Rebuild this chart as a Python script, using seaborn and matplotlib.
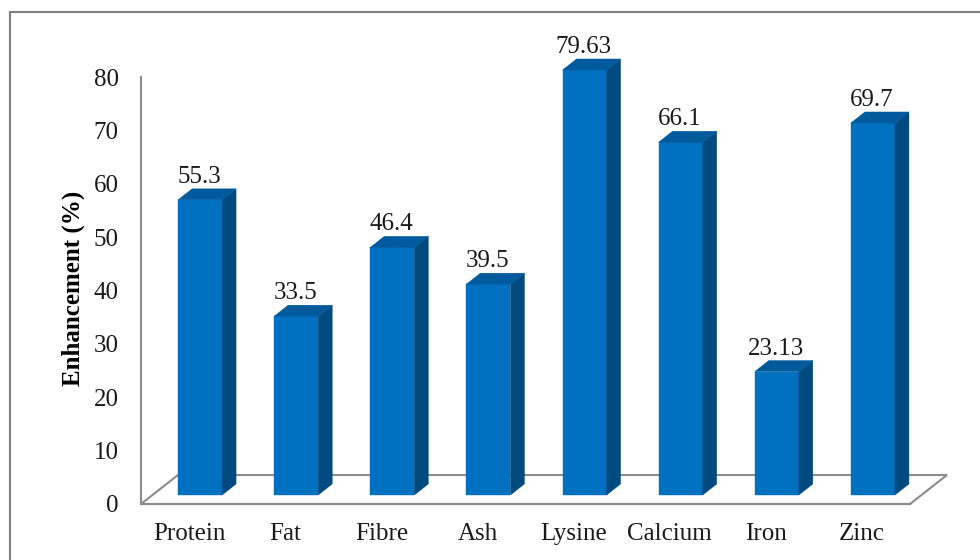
import matplotlib
matplotlib.use("Agg")
import matplotlib.pyplot as plt
from matplotlib.lines import Line2D
from matplotlib.patches import Polygon
import pandas as pd
import seaborn as sns

nutrients = ["Protein", "Fat", "Fibre", "Ash", "Lysine", "Calcium", "Iron", "Zinc"]
enhancement = [55.3, 33.5, 46.4, 39.5, 79.63, 66.1, 23.13, 69.7]
value_labels = ["55.3", "33.5", "46.4", "39.5", "79.63", "66.1", "23.13", "69.7"]
y_ticks = [0, 10, 20, 30, 40, 50, 60, 70, 80]

FRONT = "#0070C0"
SIDE = "#004A80"
TOP = "#005A9C"
GREY = "#8C8C8C"

sns.set_style("white")
plt.rcParams["font.family"] = ["Liberation Serif", "DejaVu Serif"]

df = pd.DataFrame({"nutrient": nutrients, "enhancement": enhancement})

fig = plt.figure(figsize=(9.8, 5.6), dpi=100)
ax = fig.add_axes([141 / 980, 56 / 560, 769 / 980, 427 / 560])
sns.barplot(data=df, x="nutrient", y="enhancement", color=FRONT, saturation=1,
            width=0.458, edgecolor=FRONT, linewidth=0.3, ax=ax)
ax.set_xlim(-0.5, 7.5)
ax.set_ylim(0, 80)
ax.set_yticks(y_ticks)
sns.despine(ax=ax)

# pixels to data units, the fake 3d look is all built from these
px_x = 8 / 769
px_y = 80 / 427
depth_x, depth_y = 14 * px_x, 11 * px_y
shift_x, shift_y = 11 * px_x, 9 * px_y
floor_x, floor_y = 37 * px_x, 29 * px_y

floor = Polygon([(-0.5, 0), (7.5, 0), (7.5 + floor_x, floor_y), (-0.5 + floor_x, floor_y)],
                closed=True, facecolor="white", edgecolor=GREY, linewidth=1.5,
                clip_on=False, zorder=0.5)
ax.add_patch(floor)

for bar, label in zip(ax.patches[:len(nutrients)], value_labels):
    bar.set_x(bar.get_x() + shift_x)
    bar.set_y(shift_y)
    bar.set_clip_on(False)
    bar.set_zorder(3)
    x0 = bar.get_x()
    x1 = x0 + bar.get_width()
    y0 = bar.get_y()
    y1 = y0 + bar.get_height()
    side = Polygon([(x1, y0), (x1 + depth_x, y0 + depth_y), (x1 + depth_x, y1 + depth_y), (x1, y1)],
                   facecolor=SIDE, edgecolor=SIDE, linewidth=0.3, clip_on=False, zorder=3)
    top = Polygon([(x0, y1), (x1, y1), (x1 + depth_x, y1 + depth_y), (x0 + depth_x, y1 + depth_y)],
                  facecolor=TOP, edgecolor=TOP, linewidth=0.3, clip_on=False, zorder=3)
    ax.add_patch(side)
    ax.add_patch(top)
    ax.text((x0 + x1) / 2 - 1 * px_x, y1 + depth_y + 12 * px_y, label, ha="center", va="center",
            fontsize=18, color="#1a1a1a", clip_on=False)

ax.set_xlabel("")
ax.set_ylabel("Enhancement (%)", fontsize=18, fontweight="bold", color="black")
ax.yaxis.set_label_coords(-56 / 769, 0.505)
ax.tick_params(axis="both", length=0, labelsize=18, labelcolor="#1a1a1a")
ax.tick_params(axis="y", pad=16)
ax.tick_params(axis="x", pad=14)
for name in ["left", "bottom"]:
    ax.spines[name].set_color(GREY)
    ax.spines[name].set_linewidth(1.5)

# outer frame, cut off on the right and bottom in the original
fig.add_artist(Line2D([10 / 980, 10 / 980], [0, 1 - 12 / 560], color="#808080", linewidth=1.5))
fig.add_artist(Line2D([10 / 980, 1], [1 - 12 / 560, 1 - 12 / 560], color="#808080", linewidth=1.5))

fig.savefig("out.png", dpi=100)
